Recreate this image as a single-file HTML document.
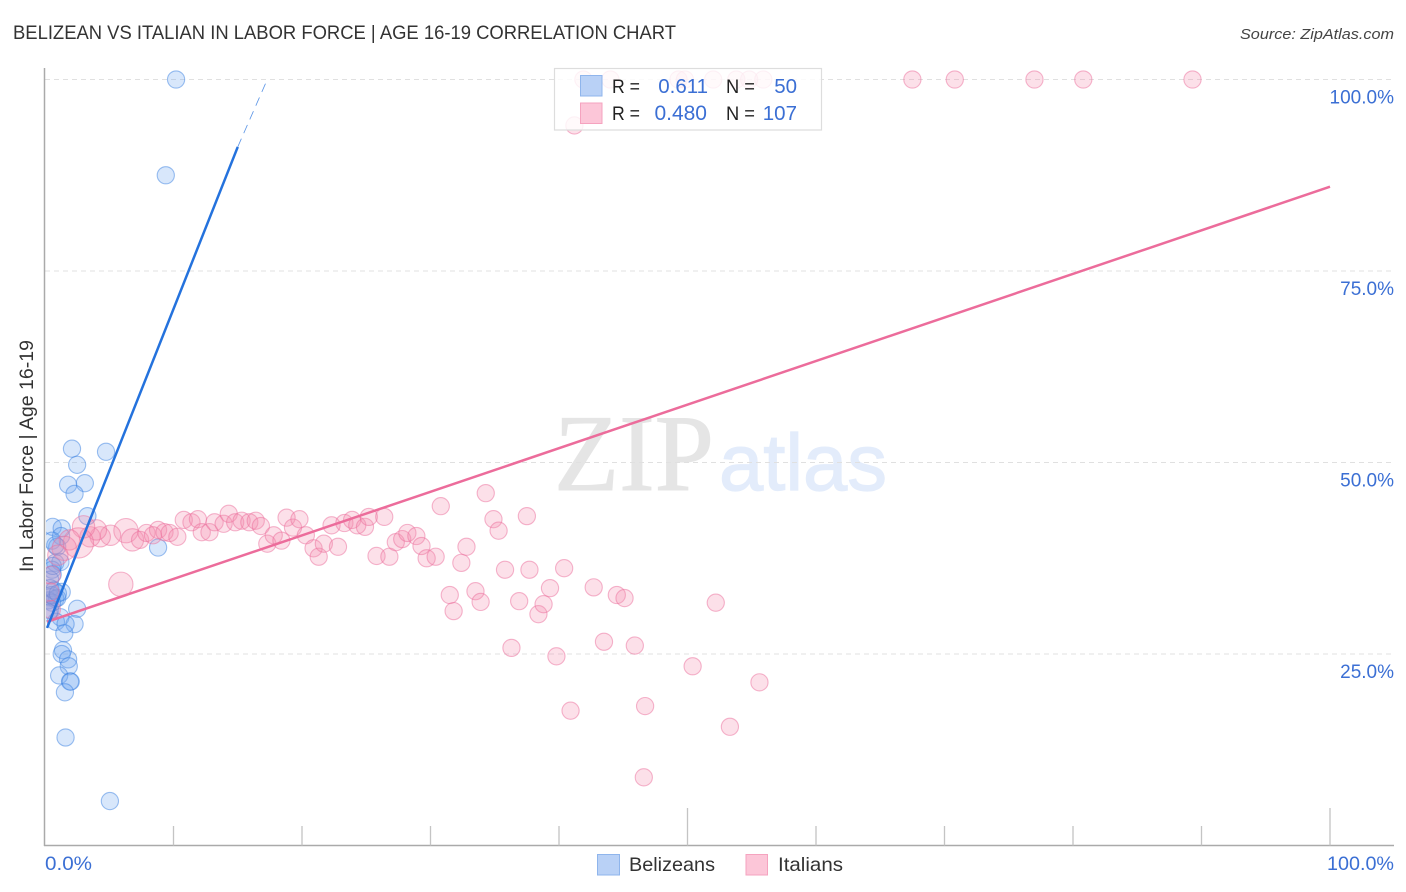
<!DOCTYPE html>
<html lang="en">
<head>
<meta charset="utf-8">
<title>Belizean vs Italian in Labor Force | Age 16-19 Correlation Chart</title>
<style>
html,body{margin:0;padding:0;background:#fff;width:1406px;height:892px;overflow:hidden}
svg{display:block;font-family:"Liberation Sans",sans-serif}
</style>
</head>
<body>
<svg id="chart" width="1406" height="892" viewBox="0 0 1406 892">
  <defs>
    <clipPath id="plot-clip"><rect x="46" y="60" width="1350" height="786"/></clipPath>
  </defs>
  <text x="13" y="39" font-size="19" fill="#333" textLength="663" lengthAdjust="spacingAndGlyphs">BELIZEAN VS ITALIAN IN LABOR FORCE | AGE 16-19 CORRELATION CHART</text>
  <text x="1394" y="39" font-size="15" font-style="italic" fill="#444" text-anchor="end" textLength="154" lengthAdjust="spacingAndGlyphs">Source: ZipAtlas.com</text>

  <g>
    <text x="554" y="490" font-family="'Liberation Serif',serif" font-size="109" fill="#e5e5e5" stroke="#e5e5e5" stroke-width="1" textLength="160" lengthAdjust="spacingAndGlyphs">ZIP</text>
    <text x="719" y="490" font-size="80" fill="#e3ecfb" stroke="#e3ecfb" stroke-width="1.2" textLength="168" lengthAdjust="spacingAndGlyphs">atlas</text>
  </g>

  <g id="grid"></g>
  <g id="points" clip-path="url(#plot-clip)"></g>
  <g id="lines"></g>

  <line x1="44.5" y1="68" x2="44.5" y2="846" stroke="#aaa" stroke-width="1.5"/>
  <line x1="44" y1="845.5" x2="1394" y2="845.5" stroke="#aaa" stroke-width="1.5"/>
  <g id="xticks"></g>
  <g id="ylabels"></g>

  <text transform="translate(33,456) rotate(-90)" font-size="19" fill="#333" text-anchor="middle" textLength="232" lengthAdjust="spacingAndGlyphs">In Labor Force | Age 16-19</text>
  <text x="45" y="870" font-size="19" fill="#3b6fd4" textLength="47" lengthAdjust="spacingAndGlyphs">0.0%</text>
  <text x="1394" y="870" font-size="19" fill="#3b6fd4" text-anchor="end" textLength="67" lengthAdjust="spacingAndGlyphs">100.0%</text>

  <g>
    <rect x="554.5" y="68.5" width="267" height="61.5" fill="#fff" fill-opacity="0.82" stroke="#ddd" stroke-width="1.2"/>
    <rect x="580.5" y="75.5" width="21.5" height="20.5" fill="#b9d1f6" stroke="#8fb5ec"/>
    <rect x="580.5" y="103" width="21.5" height="20.5" fill="#fcc6d8" stroke="#f5a3bf"/>
    <g font-size="20.5">
      <text x="612" y="93" fill="#222" font-size="19" textLength="28" lengthAdjust="spacingAndGlyphs">R =</text>
      <text x="708" y="93" fill="#3b6fd4" text-anchor="end">0.611</text>
      <text x="726" y="93" fill="#222" font-size="19" textLength="29" lengthAdjust="spacingAndGlyphs">N =</text>
      <text x="797" y="93" fill="#3b6fd4" text-anchor="end">50</text>
      <text x="612" y="120" fill="#222" font-size="19" textLength="28" lengthAdjust="spacingAndGlyphs">R =</text>
      <text x="707" y="120" fill="#3b6fd4" text-anchor="end" font-size="21">0.480</text>
      <text x="726" y="120" fill="#222" font-size="19" textLength="29" lengthAdjust="spacingAndGlyphs">N =</text>
      <text x="797" y="120" fill="#3b6fd4" text-anchor="end">107</text>
    </g>
  </g>

  <g>
    <g>
      <rect x="597.5" y="854.5" width="22" height="20.5" fill="#b9d1f6" stroke="#8fb5ec"/>
      <text x="629" y="871" font-size="19.5" fill="#333" textLength="86" lengthAdjust="spacingAndGlyphs">Belizeans</text>
    </g>
    <g>
      <rect x="746" y="854.5" width="21.5" height="20.5" fill="#fcc6d8" stroke="#f5a3bf"/>
      <text x="778" y="871" font-size="19.5" fill="#333" textLength="65" lengthAdjust="spacingAndGlyphs">Italians</text>
    </g>
  </g>
</svg>

<script>
const belizeanX = [10.2,9.4,2.1,4.75,2.5,1.8,3.1,2.3,3.3,0.6,1.3,1.25,0.55,8.8,0.95,0.8,0.8,1.2,0.55,0.6,0.4,1.3,0.4,0.4,0.8,0.25,0.95,0.55,0.4,2.5,1.2,0.85,2.3,1.6,1.5,1.4,1.3,1.8,1.85,1.1,1.95,2.0,1.55,1.6,5.05,0.5,0.7,0.6,0.3,1.0];
const belizeanY = [100,87.5,51.8,51.4,49.7,47.1,47.3,45.9,43.0,41.6,41.4,40.4,39.8,38.9,39,39.2,36.9,37,36,35.4,34.7,33.1,33.6,32.4,32.2,32,32.3,31.7,30.7,30.9,29.8,29.2,28.9,28.9,27.7,25.5,25,24.3,23.4,22.2,21.4,21.4,20,14.1,5.8,32.7,33.3,36.5,30.4,32.9];
const italianX = [5.9,6.3,5.1,4.3,3.5,4.0,3.0,2.6,1.9,1.5,1.0,0.5,0.4,0.5,6.8,7.4,7.9,8.8,8.4,9.3,9.7,10.3,10.8,11.4,11.9,12.2,12.8,13.2,13.9,14.3,14.8,15.3,15.9,16.4,16.8,17.3,17.8,18.4,18.8,19.3,19.8,20.3,20.9,21.3,21.7,22.3,22.8,23.3,23.9,24.3,24.9,25.2,26.4,25.8,26.8,27.3,27.8,28.2,28.9,29.3,29.7,30.4,30.8,31.5,31.8,32.4,32.8,33.5,33.9,34.3,34.9,35.3,35.8,36.3,36.9,37.5,37.7,38.4,38.8,39.3,39.8,40.4,40.9,42.7,43.5,44.5,45.1,45.9,46.6,46.7,50.4,52.2,53.3,55.6,41.9,44,49.3,49.8,52,53.8,54.8,55.9,67.5,70.8,77,80.8,89.3,41.2];
const italianY = [34.1,41.1,40.5,40.3,40.3,41.2,41.6,39.5,39.9,38.8,37.9,35.3,33.1,30.8,39.9,39.9,40.8,41.2,40.5,40.9,40.8,40.3,42.5,42.2,42.6,40.9,40.9,42.2,42,43.3,42.2,42.4,42.2,42.4,41.7,39.4,40.5,39.8,42.8,41.5,42.6,40.5,38.8,37.7,39.4,41.8,39,42.1,42.5,41.8,41.6,42.9,42.9,37.8,37.7,39.6,40,40.8,40.4,39.1,37.5,37.7,44.3,32.7,30.6,36.9,39,33.2,31.8,46,42.6,41.1,36,25.8,31.9,43,36,30.2,31.5,33.6,24.7,36.2,17.6,33.7,26.6,32.7,32.3,26.1,8.9,18.2,23.4,31.7,15.5,21.3,100,100,100,100,100,100,100,100,100,100,100,100,100,94];
const italianWeight = [2,2,1.4,1.4,1.4,1.4,1.7,3.1,1.4,2,1.4,1.1,1.1,1.1,1.7];
const yTicks = [25,50,75,100];
const yTickLabels = ["25.0%","50.0%","75.0%","100.0%"];
const xTicks = [10,20,30,40,50,60,70,80,90,100];
const majorXTicks = [50,100];
const belizeanTrendX = [0.16,15];
const belizeanTrendY = [28.4,91.2];
const belizeanDashX = [15,17.3];
const belizeanDashY = [91.2,100];
const italianTrendX = [0.16,100];
const italianTrendY = [29.2,86];

const NS = "http://www.w3.org/2000/svg";
function xScale(v){ return 45 + v * 12.85; }
function yScale(v){ return 845.5 - v * 7.66; }
function rScale(w){ return 8.6 * Math.sqrt(w); }
function make(tag, attrs, parent){
  const el = document.createElementNS(NS, tag);
  for (const k in attrs) el.setAttribute(k, attrs[k]);
  parent.appendChild(el);
  return el;
}

const gridG = document.getElementById("grid");
const labelG = document.getElementById("ylabels");
yTicks.forEach(function(t, i){
  const gl = make("line", {x1:45, x2:1394, y1:yScale(t), y2:yScale(t), stroke:"#e0e0e0", "stroke-width":1, "stroke-dasharray":"5 4"}, gridG);
  
  
  const tx = make("text", {x:1394, y:yScale(t)+24, "font-size":19, fill:"#3b6fd4", "text-anchor":"end"}, labelG);
  tx.textContent = yTickLabels[i];
  
  
});

const tickG = document.getElementById("xticks");
xTicks.forEach(function(t){
  const major = majorXTicks.indexOf(t) >= 0;
  const tk = make("line", {x1:xScale(t), x2:xScale(t), y1:major?808:826, y2:845.5, stroke:"#c4c4c4", "stroke-width":1.3}, tickG);
  
  
});

const pointG = document.getElementById("points");
belizeanX.forEach(function(v, i){
  const c = make("circle", {cx:xScale(v), cy:yScale(belizeanY[i]), r:rScale(1), fill:"rgba(110,165,240,0.27)", stroke:"rgba(60,130,225,0.5)", "stroke-width":1.1}, pointG);
  
  
});
italianX.forEach(function(v, i){
  const w = italianWeight[i] || 1;
  const c = make("circle", {cx:xScale(v), cy:yScale(italianY[i]), r:rScale(w), fill:"rgba(245,140,175,0.27)", stroke:"rgba(235,110,155,0.5)", "stroke-width":1.1}, pointG);
  
  
});

const lineG = document.getElementById("lines");
const l1 = make("line", {x1:xScale(italianTrendX[0]), y1:yScale(italianTrendY[0]), x2:xScale(italianTrendX[1]), y2:yScale(italianTrendY[1]), stroke:"#ec6c9b", "stroke-width":2.5}, lineG);


const l2 = make("line", {x1:xScale(belizeanTrendX[0]), y1:yScale(belizeanTrendY[0]), x2:xScale(belizeanTrendX[1]), y2:yScale(belizeanTrendY[1]), stroke:"#2472dd", "stroke-width":2.5}, lineG);


const l3 = make("line", {x1:xScale(belizeanDashX[0]), y1:yScale(belizeanDashY[0]), x2:xScale(belizeanDashX[1]), y2:yScale(belizeanDashY[1]), stroke:"#5a94e6", "stroke-width":0.8, "stroke-dasharray":"9 6"}, lineG);


</script>
</body>
</html>
